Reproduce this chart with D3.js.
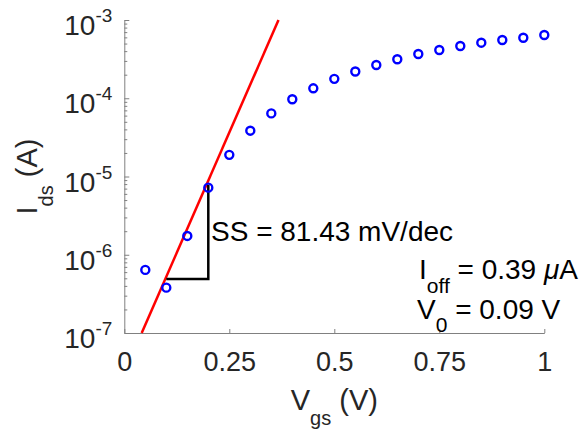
<!DOCTYPE html>
<html>
<head>
<meta charset="utf-8">
<script src="https://cdn.jsdelivr.net/npm/d3@7"></script>
<style>
  body { margin: 0; background: #fff; }
  svg { display: block; font-family: "Liberation Sans", Arial, Helvetica, sans-serif; }
</style>
</head>
<body>
<svg id="chart" width="586" height="432"></svg>
<script>
// medidas (Vgs en V, Ids en A)
const vgs = [0.05, 0.1, 0.15, 0.2, 0.25, 0.3, 0.35, 0.4, 0.45, 0.5,
             0.55, 0.6, 0.65, 0.7, 0.75, 0.8, 0.85, 0.9, 0.95, 1.0];
const ids = [6.4e-7, 3.8e-7, 1.74e-6, 7.2e-6, 1.89e-5, 3.85e-5, 6.4e-5, 9.7e-5, 1.34e-4, 1.77e-4,
             2.2e-4, 2.66e-4, 3.15e-4, 3.68e-4, 4.14e-4, 4.66e-4, 5.13e-4, 5.55e-4, 5.94e-4, 6.43e-4];

// recta de pendiente subumbral
const fitV = [0.0414, 0.3671];
const fitI = [1e-7, 1e-3];

// triangulo de la pendiente
const triV = [0.1, 0.2, 0.2];
const triI = [4.9e-7, 4.9e-7, 7.8e-6];

const xTicks = [0, 0.25, 0.5, 0.75, 1];
const xTickLabels = ["0", "0.25", "0.5", "0.75", "1"];
const yExponents = [-7, -6, -5, -4, -3];

const svg = d3.select("#chart");
const mLeft = 124.3, mRight = 544.3, mTop = 20, mBottom = 333;
const axisColor = "#808080", textColor = "#262626";

const x = d3.scaleLinear().domain([0, 1]).range([mLeft, mRight]);
const y = d3.scaleLog().domain([1e-7, 1e-3]).range([mBottom, mTop]);

// eje x (ticks hacia dentro)
const gx = svg.append("g")
  .attr("transform", `translate(0,${mBottom})`)
  .call(d3.axisBottom(x)
    .tickValues(xTicks)
    .tickFormat((d, i) => xTickLabels[i])
    .tickSizeInner(-4).tickSizeOuter(0)
    .tickPadding(19));
gx.attr("font-family", null).attr("font-size", null);
gx.select(".domain").attr("stroke", axisColor).attr("stroke-width", 1);
gx.selectAll(".tick line").attr("stroke", axisColor);
gx.selectAll(".tick text").attr("fill", textColor).style("font-size", "27px");

// eje y: ticks menores
const minor = [];
yExponents.slice(0, -1).forEach(e => {
  for (let k = 2; k <= 9; k++) minor.push(k * Math.pow(10, e));
});
const gyMinor = svg.append("g")
  .attr("transform", `translate(${mLeft},0)`)
  .call(d3.axisLeft(y).tickValues(minor).tickFormat("").tickSizeInner(-3).tickSizeOuter(0));
gyMinor.select(".domain").remove();
gyMinor.selectAll(".tick line").attr("stroke", axisColor);

// eje y: ticks mayores
const gy = svg.append("g")
  .attr("transform", `translate(${mLeft},0)`)
  .call(d3.axisLeft(y)
    .tickValues(yExponents.map(e => Math.pow(10, e)))
    .tickFormat("")
    .tickSizeInner(-5).tickSizeOuter(0));
gy.select(".domain").attr("stroke", axisColor).attr("stroke-width", 1);
gy.selectAll(".tick line").attr("stroke", axisColor);

// etiquetas 10^n
const yl = svg.append("g").selectAll("text")
  .data(yExponents)
  .enter()
  .append("text")
  .attr("x", mLeft - 12)
  .attr("y", d => y(Math.pow(10, d)) + 15)
  .attr("text-anchor", "end")
  .attr("fill", textColor);
yl.append("tspan").style("font-size", "28px").text("10");
yl.append("tspan").style("font-size", "19px").attr("dy", -13).text(d => "-" + Math.abs(d));

// titulos de ejes
const xt = svg.append("text")
  .attr("x", (mLeft + mRight) / 2)
  .attr("y", 410)
  .attr("text-anchor", "middle")
  .attr("fill", textColor)
  .style("font-size", "29px");
xt.append("tspan").text("V");
xt.append("tspan").attr("dy", 15).style("font-size", "20px").text("gs");
xt.append("tspan").attr("dy", -15).text(" (V)");

const yt = svg.append("text")
  .attr("transform", `translate(37,${(mTop + mBottom) / 2}) rotate(-90)`)
  .attr("text-anchor", "middle")
  .attr("fill", textColor)
  .style("font-size", "29px");
yt.append("tspan").text("I");
yt.append("tspan").attr("dy", 16).style("font-size", "20px").text("ds");
yt.append("tspan").attr("dy", -16).text(" (A)");

// recta de ajuste
const line = d3.line().x(d => x(d[0])).y(d => y(d[1]));
svg.append("path")
  .datum(d3.zip(fitV, fitI))
  .attr("d", line)
  .attr("fill", "none")
  .attr("stroke", "#ff0000")
  .attr("stroke-width", 2.5);

// triangulo
svg.append("path")
  .datum(d3.zip(triV, triI))
  .attr("d", line)
  .attr("fill", "none")
  .attr("stroke", "#000")
  .attr("stroke-width", 2.5);

// puntos medidos
svg.selectAll("circle")
  .data(d3.zip(vgs, ids))
  .enter()
  .append("circle")
  .attr("cx", d => x(d[0]))
  .attr("cy", d => y(d[1]))
  .attr("r", 4)
  .attr("fill", "none")
  .attr("stroke", "#0000ff")
  .attr("stroke-width", 2.4);

// anotaciones
svg.append("text")
  .attr("x", 211).attr("y", 241)
  .attr("fill", "#000")
  .style("font-size", "28px")
  .text("SS = 81.43 mV/dec");

const ioff = svg.append("text")
  .attr("x", 419).attr("y", 279)
  .attr("fill", "#000")
  .style("font-size", "28px");
ioff.append("tspan").text("I");
ioff.append("tspan").attr("dy", 14).style("font-size", "21px").text("off");
ioff.append("tspan").attr("dy", -14).text(" = 0.39 ");
ioff.append("tspan").style("font-style", "italic").text("\u03BC");
ioff.append("tspan").text("A");

const v0 = svg.append("text")
  .attr("x", 417).attr("y", 319)
  .attr("fill", "#000")
  .style("font-size", "28px");
v0.append("tspan").text("V");
v0.append("tspan").attr("dy", 13).style("font-size", "21px").text("0");
v0.append("tspan").attr("dy", -13).text(" = 0.09 V");
</script>
</body>
</html>
